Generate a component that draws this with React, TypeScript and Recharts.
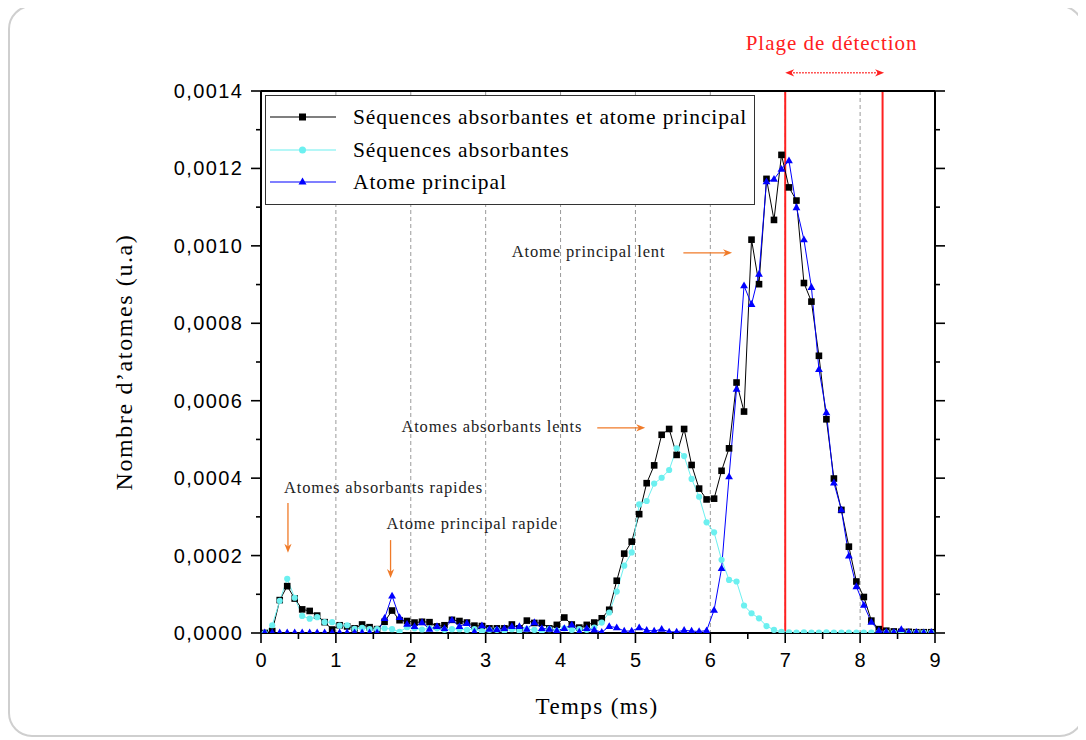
import { LineChart, Line, XAxis, YAxis, CartesianGrid, ReferenceLine, Legend } from 'recharts'

const SERIF = '"Liberation Serif", "DejaVu Serif", serif'
const SANS = '"Liberation Sans", Arial, sans-serif'

const BLACK = '#000000'
const CYAN = '#6cf0f0'
const BLUE = '#0000ff'
const ORANGE = '#f07a28'
const RED = '#ff2020'

// values are given in units of 1e-4 (u.a)
const UNIT = 1e-4

const timeMs = [
  0.05, 0.15, 0.25, 0.35, 0.45, 0.55, 0.65, 0.75, 0.85, 0.95,
  1.05, 1.15, 1.25, 1.35, 1.45, 1.55, 1.65, 1.75, 1.85, 1.95,
  2.05, 2.15, 2.25, 2.35, 2.45, 2.55, 2.65, 2.75, 2.85, 2.95,
  3.05, 3.15, 3.25, 3.35, 3.45, 3.55, 3.65, 3.75, 3.85, 3.95,
  4.05, 4.15, 4.25, 4.35, 4.45, 4.55, 4.65, 4.75, 4.85, 4.95,
  5.05, 5.15, 5.25, 5.35, 5.45, 5.55, 5.65, 5.75, 5.85, 5.95,
  6.05, 6.15, 6.25, 6.35, 6.45, 6.55, 6.65, 6.75, 6.85, 6.95,
  7.05, 7.15, 7.25, 7.35, 7.45, 7.55, 7.65, 7.75, 7.85, 7.95,
  8.05, 8.15, 8.25, 8.35, 8.45, 8.55, 8.65, 8.75, 8.85, 8.95,
]

// Séquences absorbantes et atome principal
const seqAndMain = [
  0.0, 0.05, 0.85, 1.21, 0.89, 0.61, 0.57, 0.45, 0.28, 0.09,
  0.2, 0.17, 0.12, 0.22, 0.15, 0.1, 0.29, 0.58, 0.33, 0.31,
  0.27, 0.29, 0.28, 0.17, 0.2, 0.34, 0.31, 0.27, 0.19, 0.18,
  0.12, 0.12, 0.12, 0.22, 0.12, 0.32, 0.26, 0.26, 0.12, 0.21,
  0.4, 0.22, 0.14, 0.21, 0.27, 0.38, 0.6, 1.35, 2.05, 2.36,
  3.07, 3.87, 4.33, 5.12, 5.27, 4.6, 5.27, 4.34, 3.73, 3.45,
  3.47, 4.19, 4.77, 6.47, 5.72, 10.16, 9.01, 11.73, 10.67, 12.35,
  11.51, 11.17, 9.04, 8.56, 7.16, 5.52, 3.99, 3.18, 2.23, 1.33,
  0.93, 0.32, 0.1, 0.06, 0.04, 0.03, 0.03, 0.02, 0.02, 0.02,
]

// Séquences absorbantes
const seqOnly = [
  0.0, 0.2, 0.83, 1.4, 0.91, 0.44, 0.37, 0.41, 0.28, 0.28,
  0.19, 0.2, 0.11, 0.13, 0.1, 0.1, 0.12, 0.1, 0.03, 0.15,
  0.12, 0.09, 0.12, 0.12, 0.08, 0.1, 0.1, 0.08, 0.1, 0.05,
  0.08, 0.08, 0.06, 0.1, 0.06, 0.1, 0.08, 0.05, 0.1, 0.06,
  0.12, 0.08, 0.1, 0.08, 0.14, 0.27, 0.53, 1.07, 1.74, 2.08,
  3.32, 3.41, 3.86, 4.01, 4.21, 4.77, 4.57, 3.98, 3.52, 2.86,
  2.6, 1.89, 1.37, 1.33, 0.71, 0.51, 0.38, 0.18, 0.08, 0.03,
  0.02, 0.01, 0.02, 0.01, 0.01, 0.02, 0.01, 0.01, 0.01, 0.01,
  0.01, 0.01, 0.01, 0.01, 0.01, 0.01, 0.01, 0.01, 0.01, 0.01,
]

// Atome principal
const mainOnly = [
  0.01, 0.01, 0.01, 0.01, 0.01, 0.01, 0.01, 0.01, 0.01, 0.01,
  0.01, 0.01, 0.01, 0.01, 0.01, 0.01, 0.38, 0.96, 0.4, 0.23,
  0.17, 0.27, 0.1, 0.17, 0.12, 0.33, 0.17, 0.25, 0.03, 0.19,
  0.1, 0.09, 0.12, 0.17, 0.17, 0.1, 0.27, 0.12, 0.1, 0.06,
  0.12, 0.21, 0.03, 0.12, 0.08, 0.02, 0.17, 0.14, 0.05, 0.05,
  0.14, 0.07, 0.05, 0.1, 0.03, 0.03, 0.07, 0.05, 0.04, 0.06,
  0.59, 1.67, 4.04, 6.3, 8.97, 8.49, 9.27, 11.66, 11.72, 11.98,
  12.2, 10.99, 10.16, 8.93, 6.81, 5.69, 3.88, 3.18, 1.99, 1.2,
  0.72, 0.28, 0.06, 0.03, 0.02, 0.09, 0.02, 0.02, 0.01, 0.02,
]

const xTicks = [0, 0.5, 1, 1.5, 2, 2.5, 3, 3.5, 4, 4.5, 5, 5.5, 6, 6.5, 7, 7.5, 8, 8.5, 9]
const yTicks = [
  0, 0.0001, 0.0002, 0.0003, 0.0004, 0.0005, 0.0006, 0.0007,
  0.0008, 0.0009, 0.001, 0.0011, 0.0012, 0.0013, 0.0014,
]
const gridX = [1, 2, 3, 4, 5, 6, 7, 8]
const detectionLimits = [7, 8.3]
const legendOrder = ['both', 'seq', 'main']

const data = timeMs.map((t, i) => ({
  t,
  both: seqAndMain[i] * UNIT,
  seq: seqOnly[i] * UNIT,
  main: mainOnly[i] * UNIT,
}))

const fmt = (v: number) => v.toFixed(4).replace('.', ',')
const isMajorY = (v: number) => Math.round(v / UNIT) % 2 === 0

const squareDot = (p: any) => (
  <rect key={`sq${p.index}`} x={p.cx - 3.3} y={p.cy - 3.3} width={6.6} height={6.6} fill={BLACK} />
)
const circleDot = (p: any) => (
  <circle key={`ci${p.index}`} cx={p.cx} cy={p.cy} r={3.1} fill={CYAN} />
)
const triangleDot = (p: any) => (
  <polygon
    key={`tr${p.index}`}
    points={`${p.cx},${p.cy - 4.2} ${p.cx - 3.9},${p.cy + 2.6} ${p.cx + 3.9},${p.cy + 2.6}`}
    fill={BLUE}
  />
)

// tick renderers (minor ticks are short and unlabeled)
const bottomTick = (p: any) => {
  const { x, y, payload } = p
  const v = payload.value
  const major = Number.isInteger(v)
  const ay = y - 19
  return (
    <g key={`bx${v}`}>
      <line x1={x} x2={x} y1={ay} y2={ay + (major ? 10 : 6)} stroke="#000" strokeWidth={1.6} />
      {major && (
        <text x={x} y={ay + 34} textAnchor="middle" fontFamily={SANS} fontSize={20} fill="#000">
          {v}
        </text>
      )}
    </g>
  )
}

const leftTick = (p: any) => {
  const { x, y, payload } = p
  const v = payload.value
  const major = isMajorY(v)
  const ax = x + 18
  return (
    <g key={`ly${v}`}>
      <line x1={ax} x2={ax - (major ? 10 : 5)} y1={y} y2={y} stroke="#000" strokeWidth={1.6} />
      {major && (
        <text
          x={ax - 17.6}
          y={y + 7}
          textAnchor="end"
          fontFamily={SANS}
          fontSize={20}
          letterSpacing={1.4}
          fill="#000"
        >
          {fmt(v)}
        </text>
      )}
    </g>
  )
}

const rightTick = (p: any) => {
  const { x, y, payload } = p
  const v = payload.value
  const major = isMajorY(v)
  const ax = x - 10
  return (
    <g key={`ry${v}`}>
      <line x1={ax} x2={ax + (major ? 10 : 5)} y1={y} y2={y} stroke="#000" strokeWidth={1.6} />
    </g>
  )
}

// annotation arrows drawn on reference segments
const arrowHead = (x: number, y: number, ang: number, color: string, key: string) => {
  const L = 9
  const W = 3.6
  const bx = x - L * Math.cos(ang)
  const by = y - L * Math.sin(ang)
  const nx = -Math.sin(ang) * W
  const ny = Math.cos(ang) * W
  const mx = x - L * 0.7 * Math.cos(ang)
  const my = y - L * 0.7 * Math.sin(ang)
  return (
    <polygon
      key={key}
      points={`${x},${y} ${bx + nx},${by + ny} ${mx},${my} ${bx - nx},${by - ny}`}
      fill={color}
    />
  )
}

const annotation =
  (text: string, dx: number, dy: number, anchor: 'start' | 'end') => (p: any) => {
    const { x1, y1, x2, y2 } = p
    const ang = Math.atan2(y2 - y1, x2 - x1)
    return (
      <g>
        <line x1={x1} y1={y1} x2={x2 - 5 * Math.cos(ang)} y2={y2 - 5 * Math.sin(ang)} stroke={ORANGE} strokeWidth={1.3} />
        {arrowHead(x2, y2, ang, ORANGE, 'h')}
        <text
          x={x1 + dx}
          y={y1 + dy}
          textAnchor={anchor}
          fontFamily={SERIF}
          fontSize={16.5}
          letterSpacing={0.85}
          fill="#222"
        >
          {text}
        </text>
      </g>
    )
  }

const detectionShape = (p: any) => {
  const { x1, y1, x2 } = p
  return (
    <g>
      <line x1={x1 + 5} y1={y1} x2={x2 - 5} y2={y1} stroke={RED} strokeWidth={1.5} strokeDasharray="1.5 1.5" />
      {arrowHead(x2, y1, 0, RED, 'r')}
      {arrowHead(x1, y1, Math.PI, RED, 'l')}
      <text
        x={(x1 + x2) / 2 - 3}
        y={y1 - 23}
        textAnchor="middle"
        fontFamily={SERIF}
        fontSize={21}
        letterSpacing={1}
        fill={RED}
      >
        Plage de détection
      </text>
    </g>
  )
}

const seriesStyle: Record<string, { color: string; marker: string }> = {
  both: { color: BLACK, marker: 'square' },
  seq: { color: CYAN, marker: 'circle' },
  main: { color: BLUE, marker: 'triangle' },
}

const legendMarker = (marker: string, color: string) => {
  if (marker === 'square') return <rect x={29} y={6.5} width={7} height={7} fill={color} />
  if (marker === 'circle') return <circle cx={32.5} cy={10} r={3.5} fill={color} />
  return <polygon points="32.5,5.5 28.5,12.5 36.5,12.5" fill={color} />
}

const renderLegend = (props: any) => {
  const payload = props.payload || []
  const entries = legendOrder
    .map((k) => payload.find((e: any) => e.dataKey === k))
    .filter(Boolean)
  return (
    <div
      style={{
        width: 490,
        height: 110,
        boxSizing: 'border-box',
        border: '1px solid #333',
        background: '#fff',
        position: 'relative',
        fontFamily: SERIF,
        fontSize: 21.5,
        letterSpacing: 0.9,
        color: '#000',
      }}
    >
      {entries.map((entry: any, i: number) => {
        const st = seriesStyle[entry.dataKey]
        return (
          <div
            key={entry.dataKey}
            style={{ position: 'absolute', left: 4, top: 11 + i * 32.5, height: 20, display: 'flex', alignItems: 'center' }}
          >
            <svg width={66} height={20}>
              <line x1={0} x2={66} y1={10} y2={10} stroke={st.color} strokeWidth={1.2} />
              {legendMarker(st.marker, st.color)}
            </svg>
            <span style={{ marginLeft: 17, whiteSpace: 'nowrap', lineHeight: '20px' }}>{entry.value}</span>
          </div>
        )
      })}
    </div>
  )
}

export default function App() {
  return (
    <div style={{ position: 'relative', width: 1070, height: 730 }}>
      <div
        style={{
          position: 'absolute',
          left: 0,
          top: -3,
          width: 1076,
          height: 732,
          boxSizing: 'border-box',
          border: '2px solid #cfcfcf',
          borderRadius: 24,
        }}
      />
      <LineChart
        width={1070}
        height={730}
        data={data}
        margin={{ top: 82, right: 123, bottom: 45, left: 143 }}
        style={{ position: 'absolute', left: 0, top: 0 }}
      >
        <CartesianGrid
          vertical
          horizontal={false}
          verticalValues={gridX}
          stroke="#9a9a9a"
          strokeDasharray="4 3"
        />
        <XAxis
          dataKey="t"
          type="number"
          domain={[0, 9]}
          ticks={xTicks}
          interval={0}
          tickSize={10}
          tickMargin={9}
          tickLine={false}
          tick={bottomTick}
          axisLine={{ stroke: '#000', strokeWidth: 2 }}
          height={60}
          allowDataOverflow
        />
        <XAxis
          xAxisId="top"
          orientation="top"
          type="number"
          domain={[0, 9]}
          tick={false}
          tickLine={false}
          axisLine={{ stroke: '#000', strokeWidth: 2 }}
          height={1}
          allowDataOverflow
        />
        <YAxis
          type="number"
          domain={[0, 0.0014]}
          ticks={yTicks}
          interval={0}
          tickSize={10}
          tickMargin={8}
          tickLine={false}
          tick={leftTick}
          axisLine={{ stroke: '#000', strokeWidth: 2 }}
          width={110}
          allowDataOverflow
        />
        <YAxis
          yAxisId="right"
          orientation="right"
          type="number"
          domain={[0, 0.0014]}
          ticks={yTicks}
          interval={0}
          tickSize={10}
          tickMargin={0}
          tickLine={false}
          tick={rightTick}
          axisLine={{ stroke: '#000', strokeWidth: 2 }}
          width={20}
          allowDataOverflow
        />
        <Legend
          layout="vertical"
          align="center"
          verticalAlign="middle"
          content={renderLegend}
          wrapperStyle={{ left: 257, top: 87, width: 490, height: 110 }}
        />
        {detectionLimits.map((x) => (
          <ReferenceLine key={`lim${x}`} x={x} stroke={RED} strokeWidth={2} />
        ))}
        <Line
          dataKey="both"
          name="Séquences absorbantes et atome principal"
          type="linear"
          stroke={BLACK}
          strokeWidth={1}
          dot={squareDot}
          activeDot={false}
          isAnimationActive={false}
        />
        <Line
          dataKey="seq"
          name="Séquences absorbantes"
          type="linear"
          stroke={CYAN}
          strokeWidth={1}
          dot={circleDot}
          activeDot={false}
          isAnimationActive={false}
        />
        <Line
          dataKey="main"
          name="Atome principal"
          type="linear"
          stroke={BLUE}
          strokeWidth={1}
          dot={triangleDot}
          activeDot={false}
          isAnimationActive={false}
        />
        <ReferenceLine
          segment={[{ x: 5.64, y: 0.000982 }, { x: 6.29, y: 0.000982 }]}
          ifOverflow="visible"
          shape={annotation('Atome principal lent', -18, 4, 'end')}
        />
        <ReferenceLine
          segment={[{ x: 4.49, y: 0.00053 }, { x: 5.13, y: 0.00053 }]}
          ifOverflow="visible"
          shape={annotation('Atomes absorbants lents', -15, 4, 'end')}
        />
        <ReferenceLine
          segment={[{ x: 0.36, y: 0.000336 }, { x: 0.36, y: 0.000207 }]}
          ifOverflow="visible"
          shape={annotation('Atomes absorbants rapides', -4, -10, 'start')}
        />
        <ReferenceLine
          segment={[{ x: 1.73, y: 0.00024 }, { x: 1.73, y: 0.000142 }]}
          ifOverflow="visible"
          shape={annotation('Atome principal rapide', -4, -11, 'start')}
        />
        <ReferenceLine
          segment={[{ x: 7, y: 0.001447 }, { x: 8.32, y: 0.001447 }]}
          ifOverflow="visible"
          shape={detectionShape}
        />
      </LineChart>
      <div
        style={{
          position: 'absolute',
          left: 589,
          top: 687,
          transform: 'translateX(-50%)',
          fontFamily: SERIF,
          fontSize: 23,
          letterSpacing: 1.4,
          whiteSpace: 'nowrap',
          lineHeight: 1,
        }}
      >
        Temps (ms)
      </div>
      <div
        style={{
          position: 'absolute',
          left: 116,
          top: 354,
          transform: 'translate(-50%, -50%) rotate(-90deg)',
          fontFamily: SERIF,
          fontSize: 24,
          letterSpacing: 1.6,
          whiteSpace: 'nowrap',
          lineHeight: 1,
        }}
      >
        Nombre d’atomes (u.a)
      </div>
    </div>
  )
}
